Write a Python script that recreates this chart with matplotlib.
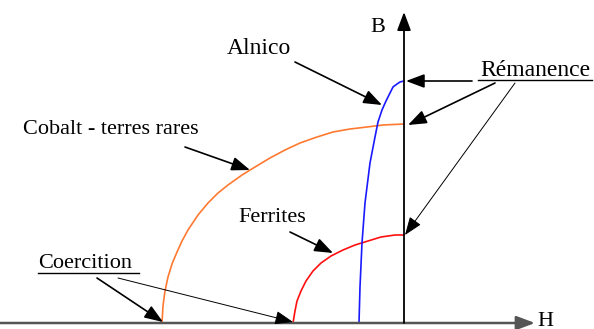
import matplotlib
matplotlib.use("Agg")
from matplotlib import pyplot as plt

# demagnetisation curves, H (negative side) and B
cobalt_h = [-242, -241, -239, -236, -232, -227, -222, -216, -206, -196, -186, -176,
            -162, -149, -134, -119, -104, -87, -71, -54, -37, -21, 0]
cobalt_b = [0, 17, 32, 46, 59, 71, 82, 93, 108, 120, 130, 138,
            148, 156, 165, 173, 180, 186, 191, 194, 196, 198, 199]

ferrite_h = [-111, -109, -107, -103, -98, -91, -83, -73, -61, -49, -36, -23, -9, 0]
ferrite_b = [0, 12, 22, 32, 42, 52, 60, 67, 73, 78, 82, 86, 88, 88]

alnico_h = [-45, -44, -42, -39, -34, -29, -26, -22, -18, -14, -11, -7, -4, 0]
alnico_b = [0, 36, 80, 120, 160, 186, 201, 213, 222, 230, 236, 239, 241, 242]

plt.rcParams['font.family'] = ['Liberation Serif', 'DejaVu Serif']

fig = plt.figure(figsize=(5.94, 3.29), dpi=100)
ax = fig.add_axes([0, 0, 1, 1])
ax.set_xlim(-404, 190)
ax.set_ylim(-6, 323)
ax.axis('off')

head = '-|>,head_length=0.8,head_width=0.3'

# axes with arrows
ax.annotate('', xy=(131, 0), xytext=(-404, 0),
            arrowprops=dict(arrowstyle=head, mutation_scale=14, color='#555555', lw=1.8,
                            shrinkA=0, shrinkB=0))
ax.annotate('', xy=(0, 311), xytext=(0, 0),
            arrowprops=dict(arrowstyle=head, mutation_scale=14, color='black', lw=1.3,
                            shrinkA=0, shrinkB=0))
ax.text(141, 2, 'H', fontsize=16, ha='center', va='center')
ax.text(-26, 296, 'B', fontsize=16, ha='center', va='center')

# curves
ax.plot(cobalt_h, cobalt_b, color='#ff7a30', lw=1.2, solid_joinstyle='round')
ax.plot(ferrite_h, ferrite_b, color='#ff1010', lw=1.2, solid_joinstyle='round')
ax.plot(alnico_h, alnico_b, color='#1a1aff', lw=1.2, solid_joinstyle='round')


def arrow(start, tip, thin=False):
    ax.annotate('', xy=tip, xytext=start,
                arrowprops=dict(arrowstyle=head, mutation_scale=14,
                                color='black', lw=0.7 if thin else 1.2,
                                shrinkA=0, shrinkB=0))


# labels
ax.text(-145, 275, 'Alnico', fontsize=17, ha='center', va='center')
arrow((-109, 261), (-22, 218))

ax.text(131, 252, 'Rémanence', fontsize=17, ha='center', va='center')
ax.plot([74, 188], [243, 243], color='black', lw=1.0)
arrow((68, 242), (2, 242))
arrow((91, 240), (4, 198))
arrow((111, 240), (1, 88), thin=True)

ax.text(-293, 194, 'Cobalt - terres rares', fontsize=16, ha='center', va='center')
arrow((-219, 176), (-154, 153))

ax.text(-132, 105, 'Ferrites', fontsize=16, ha='center', va='center')
arrow((-114, 91), (-71, 70))

ax.text(-319, 59, 'Coercition', fontsize=16, ha='center', va='center')
ax.plot([-366, -265], [50, 50], color='black', lw=1.0)
arrow((-307, 45), (-241, 1))
arrow((-286, 45), (-111, 1), thin=True)

fig.savefig('out.png', dpi=100)
